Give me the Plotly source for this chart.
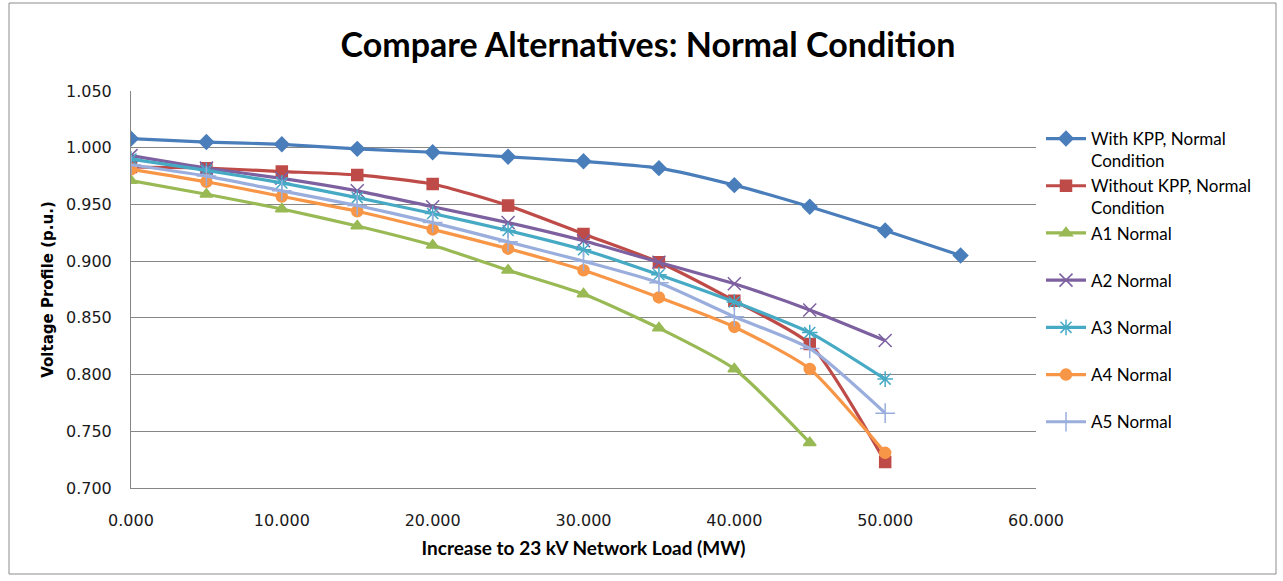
import plotly.graph_objects as go

load_mw = [0, 5, 10, 15, 20, 25, 30, 35, 40, 45, 50, 55]

with_kpp = [1.008, 1.005, 1.003, 0.999, 0.996, 0.992, 0.988, 0.982, 0.967, 0.948, 0.927, 0.905]
without_kpp = [0.983, 0.982, 0.979, 0.976, 0.968, 0.949, 0.924, 0.899, 0.865, 0.827, 0.723]
a1_normal = [0.971, 0.959, 0.946, 0.931, 0.914, 0.892, 0.871, 0.841, 0.805, 0.740]
a2_normal = [0.993, 0.982, 0.973, 0.962, 0.948, 0.934, 0.918, 0.899, 0.880, 0.857, 0.830]
a3_normal = [0.990, 0.980, 0.969, 0.956, 0.942, 0.927, 0.910, 0.888, 0.864, 0.837, 0.796]
a4_normal = [0.981, 0.970, 0.957, 0.944, 0.928, 0.911, 0.892, 0.868, 0.842, 0.805, 0.731]
a5_normal = [0.985, 0.975, 0.962, 0.949, 0.934, 0.917, 0.900, 0.881, 0.851, 0.823, 0.766]

series_names = [
    "With KPP, Normal<br>Condition",
    "Without KPP, Normal<br>Condition",
    "A1 Normal<br> ",
    "A2 Normal<br> ",
    "A3 Normal<br> ",
    "A4 Normal<br> ",
    "A5 Normal<br> ",
]
series_values = [with_kpp, without_kpp, a1_normal, a2_normal, a3_normal, a4_normal, a5_normal]
line_colors = ["#4A7EBB", "#BE4B48", "#98B954", "#7D60A0", "#46AAC5", "#F79646", "#9AAEDD"]
marker_symbols = ["diamond", "square", "triangle-up", "x-thin-open", "asterisk-open", "circle", "cross-thin-open"]
marker_sizes = [11, 11, 11, 13, 13, 11, 14]

fig = go.Figure()
for i, (name, vals) in enumerate(zip(series_names, series_values)):
    fig.add_trace(go.Scatter(
        x=load_mw[:len(vals)],
        y=vals,
        name=name,
        mode="lines+markers",
        legendgroup=f"g{i}",
        line=dict(color=line_colors[i], width=3.2, shape="spline", smoothing=0.6),
        marker=dict(symbol=marker_symbols[i], size=marker_sizes[i], color=line_colors[i],
                    line=dict(color=line_colors[i], width=1.5)),
    ))

L, R, T, B = 131, 1036, 91, 488
W, H = 1283, 581

def px_x(p):
    return (p - L) / (R - L)

def px_y(p):
    return (B - p) / (B - T)

TICK_FONT = "DejaVu Sans, Verdana, sans-serif"
TEXT_FONT = "Lato, Open Sans, sans-serif"

fig.update_layout(
    width=W, height=H,
    margin=dict(l=L, r=W - R, t=T, b=H - B, autoexpand=False),
    paper_bgcolor="white",
    plot_bgcolor="white",
    font=dict(family=TEXT_FONT, color="#000000", size=14),
    title=dict(text="<b>Compare Alternatives: Normal Condition</b>",
               x=648 / W, xanchor="center", y=1 - 45 / H, yanchor="middle",
               font=dict(size=34, family=TEXT_FONT, color="#000000")),
    xaxis=dict(range=[0, 60], dtick=10, tick0=0, tickformat=".3f",
               showgrid=False, zeroline=False, showline=True, linecolor="#868686", linewidth=1,
               ticks="", ticklabelstandoff=18, tickfont=dict(size=16, family=TICK_FONT, color="#1a1a1a"),
               title=dict(text="<b>Increase to 23 kV Network Load (MW)</b>",
                          font=dict(size=19, family=TEXT_FONT), standoff=12)),
    yaxis=dict(range=[0.7, 1.05], dtick=0.05, tick0=0.7, tickformat=".3f",
               showgrid=True, gridcolor="#868686", gridwidth=1, zeroline=False,
               showline=True, linecolor="#868686", linewidth=1, ticks="",
               ticklabelstandoff=15, tickfont=dict(size=16, family=TICK_FONT, color="#1a1a1a"),
               title=dict(text="<b>Voltage Profile (p.u.)</b>",
                          font=dict(size=15, family="DejaVu Sans, sans-serif"), standoff=8)),
    legend=dict(x=px_x(1041), xanchor="left", y=px_y(121), yanchor="top",
                font=dict(size=17, color="#000000", family=TEXT_FONT), valign="top",
                tracegroupgap=0, itemwidth=40, bgcolor="rgba(0,0,0,0)"),
    shapes=[dict(type="rect", xref="paper", yref="paper",
                 x0=px_x(9), x1=px_x(1276), y0=px_y(574), y1=px_y(3),
                 line=dict(color="#8C8C8C", width=1), fillcolor="rgba(0,0,0,0)", layer="below")],
)

fig.write_html("out.html", config={"displayModeBar": False},
               post_script="document.body.style.margin='0';")
